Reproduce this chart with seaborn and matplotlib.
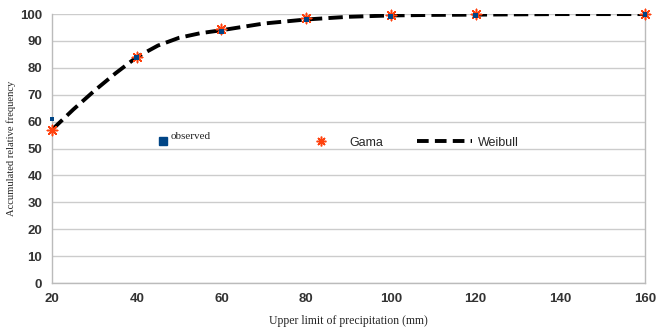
import matplotlib
matplotlib.use("Agg")
import matplotlib.pyplot as plt
import seaborn as sns
from matplotlib.lines import Line2D

# data
x_obs = [20, 40, 60, 80, 100, 120, 160]
y_obs = [61, 84, 93.5, 98, 99, 99.5, 100]

x_gama = [20, 40, 60, 80, 100, 120, 160]
y_gama = [57, 84, 94.5, 98.5, 99.5, 100, 100]

x_weib = [20, 25, 30, 35, 40, 45, 50, 55, 60, 70, 80, 90, 100, 110, 120, 130, 140, 150, 160]
y_weib = [57, 64.5, 71.5, 78, 84, 88.3, 91.2, 92.9, 94, 96.5, 98, 99, 99.5, 99.7, 99.8, 99.9, 100, 100, 100]

xticks = [20, 40, 60, 80, 100, 120, 140, 160]
yticks = list(range(0, 101, 10))

blue = "#004586"
orange = "#ff420e"

sns.set_style("white")
fig = plt.figure(figsize=(6.67, 3.28), dpi=100)
ax = fig.add_axes([0.078, 0.137, 0.889, 0.82])

sns.lineplot(x=x_weib, y=y_weib, ax=ax, color="black", linewidth=2.8,
             linestyle="--", dashes=(3.6, 1.9), zorder=3)
ax.scatter(x_gama, y_gama, marker=(8, 2, 0), color=orange, s=55,
           linewidths=1.1, zorder=5, clip_on=False)
sns.scatterplot(x=x_obs, y=y_obs, ax=ax, marker="s", color=blue, s=12,
                edgecolor="none", zorder=6, clip_on=False)

ax.set_xlim(20, 160)
ax.set_ylim(0, 100)
ax.set_xticks(xticks)
ax.set_yticks(yticks)
ax.grid(axis="y", color="#cccccc", linewidth=1)
ax.set_axisbelow(True)
for s in ["left", "bottom", "right"]:
    ax.spines[s].set_color("#bbbbbb")
    ax.spines[s].set_linewidth(1)
ax.spines["top"].set_visible(False)
ax.tick_params(axis="both", length=4, color="#bbbbbb", width=1,
               labelsize=9.5, labelcolor="#333333", pad=3)
for lab in ax.get_xticklabels() + ax.get_yticklabels():
    lab.set_fontfamily("Liberation Sans")
    lab.set_fontweight("bold")

ax.set_xlabel("Upper limit of precipitation (mm)", fontfamily="Liberation Serif",
              fontsize=8.5, labelpad=7)
ax.set_ylabel("Accumulated relative frequency", fontfamily="Liberation Serif",
              fontsize=7.6, labelpad=3)

# legend entries placed separately, like the original
h_obs = Line2D([], [], marker="s", color=blue, linestyle="none", markersize=6)
leg1 = ax.legend([h_obs], ["observed\n"], loc="center left",
                 bbox_to_anchor=(0.18, 0.525), handlelength=0.8, handletextpad=0.3,
                 frameon=False, borderpad=0, borderaxespad=0,
                 prop={"family": "Liberation Serif", "size": 8})
ax.add_artist(leg1)
h_gama = Line2D([], [], marker=(8, 2, 0), color=orange, linestyle="none",
                markersize=7, markeredgewidth=1.1)
leg2 = ax.legend([h_gama], ["Gama"], loc="center left",
                 bbox_to_anchor=(0.445, 0.522), handlelength=0.8, handletextpad=1.9,
                 frameon=False, borderpad=0, borderaxespad=0,
                 prop={"family": "Liberation Sans", "size": 9})
ax.add_artist(leg2)
h_weib = Line2D([], [], color="black", linewidth=2.8, linestyle="--", dashes=(3.0, 1.6))
ax.legend([h_weib], ["Weibull"], loc="center left",
          bbox_to_anchor=(0.615, 0.522), handlelength=4.4, handletextpad=0.5,
          frameon=False, borderpad=0, borderaxespad=0,
          prop={"family": "Liberation Sans", "size": 9})

fig.savefig("out.png", dpi=100)
